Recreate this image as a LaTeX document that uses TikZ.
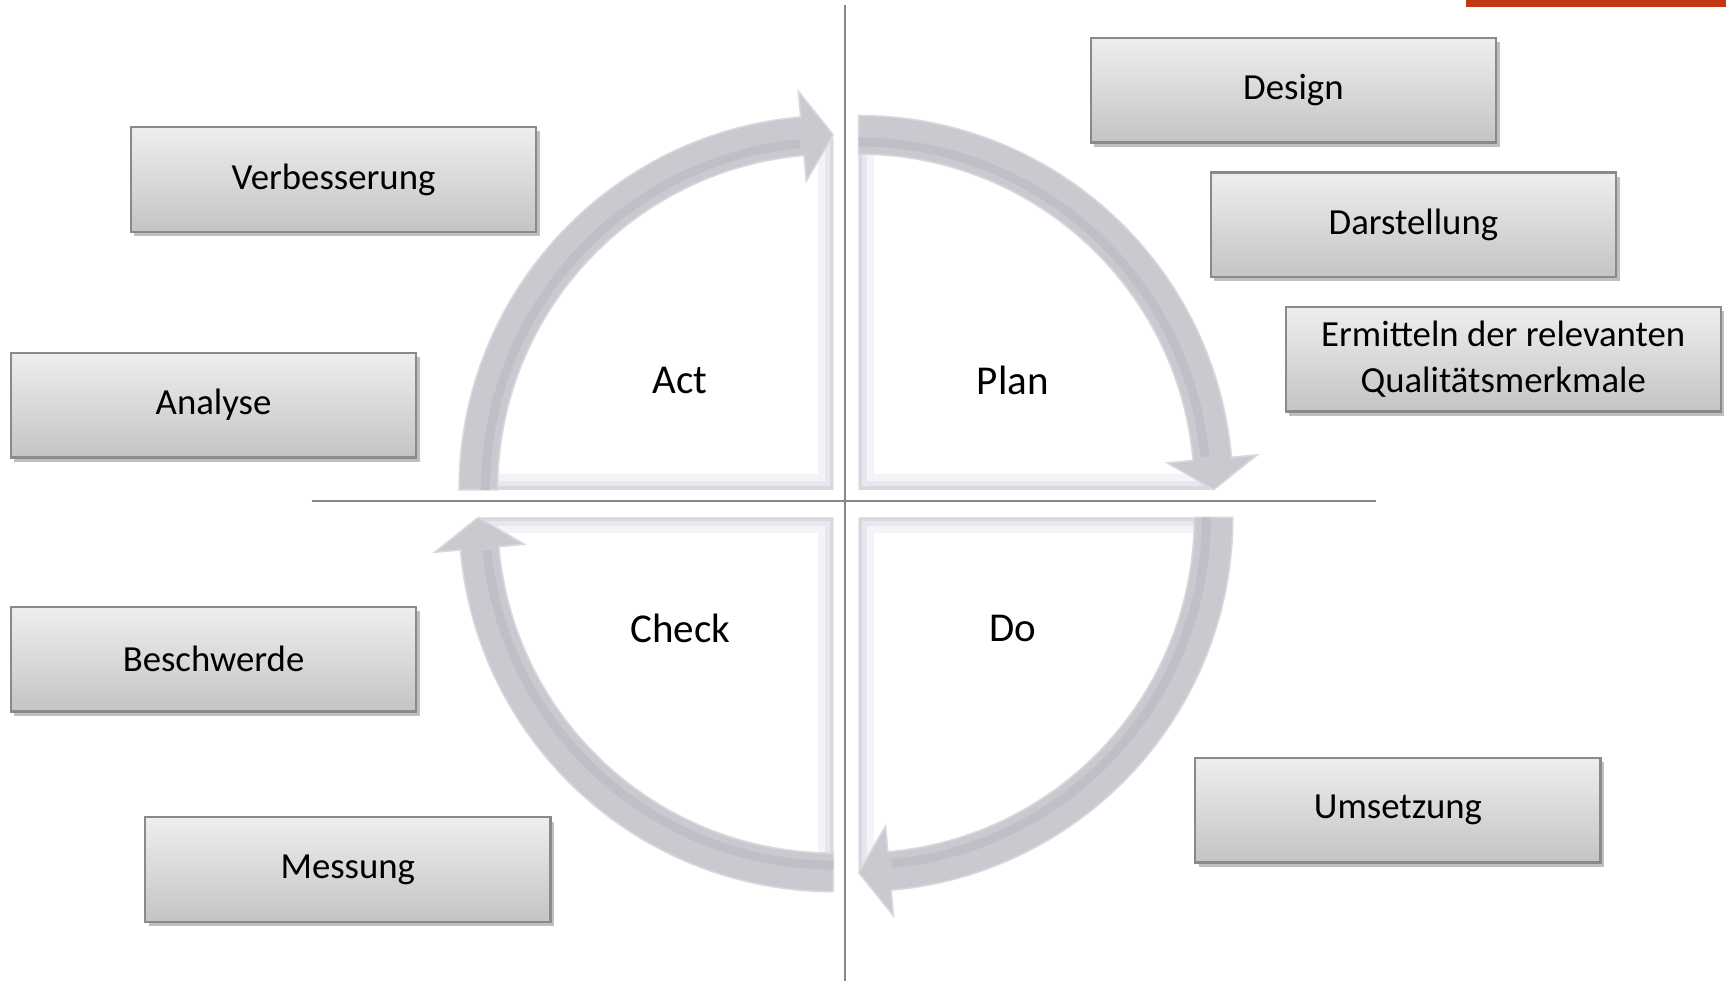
\documentclass[tikz,border=0pt]{standalone}
\usepackage{fontspec}
\setmainfont{Carlito}
\usepackage{tikz}
\usetikzlibrary{positioning, shadows}
\usepackage{xcolor}

\definecolor{boxtop}{RGB}{238,238,238}
\definecolor{boxbottom}{RGB}{196,196,196}
\definecolor{boxborder}{RGB}{138,138,138}
\definecolor{arrowgray}{RGB}{201,201,208}
\definecolor{arrowdark}{RGB}{191,191,200}
\definecolor{arrowedge}{RGB}{216,216,222}
\definecolor{bevelA}{RGB}{244,244,248}
\definecolor{bevelB}{RGB}{231,231,237}
\definecolor{bevelC}{RGB}{216,216,224}
\definecolor{crossgray}{RGB}{135,135,135}
\definecolor{topbar}{RGB}{192,57,18}

\begin{document}
\begin{tikzpicture}[x=0.01cm, y=0.01cm,
  box/.style={draw=boxborder, line width=0.6pt, top color=boxtop, bottom color=boxbottom,
    minimum width=3.68cm, minimum height=0.95cm, inner sep=2pt, align=center,
    font=\fontsize{9.5}{11.7}\selectfont,
    drop shadow={shadow xshift=0.9pt, shadow yshift=-1.1pt, fill=black, opacity=0.25}},
  phase/.style={font=\fontsize{10.6}{12.5}\selectfont},
  cycle arrow/.style={fill=arrowgray, draw=arrowedge, line width=0.4pt},
  cross/.style={draw=crossgray, line width=0.5pt}]

 \useasboundingbox (0,0) rectangle (1568,891);

 % Bar in the top corner
 \fill[topbar] (1332,885) rectangle (1568,891);

 % Quadrant panels and cycle arrows, one per quarter, turned clockwise
 \foreach \cx/\cy/\rot in {780/446/0, 780/421/-90, 757/421/-180, 757/446/-270} {
   \begin{scope}[shift={(\cx,\cy)}, rotate=\rot]
     \fill[white] (0,0) -- (0:320) arc[start angle=0, end angle=90, radius=320] -- cycle;
     \begin{scope}
       \clip (0,0) -- (0:320) arc[start angle=0, end angle=90, radius=320] -- cycle;
       \draw[bevelA, line width=8pt] (0:320) -- (0,0) -- (90:320);
       \draw[bevelB, line width=4.5pt] (0:320) -- (0,0) -- (90:320);
       \draw[bevelC, line width=1.8pt] (0:320) -- (0,0) -- (90:320);
     \end{scope}
     \draw[cycle arrow] (90:340) arc[start angle=90, end angle=5, radius=340]
       -- (5:363.5) -- (0:322.5) -- (5:281.5) -- (5:305)
       arc[start angle=5, end angle=90, radius=305] -- cycle;
     \draw[arrowdark, line width=2.3pt] (90:316) arc[start angle=90, end angle=5.5, radius=316];
   \end{scope}
 }

 % Cross lines
 \draw[cross] (768,886) -- (768,0);
 \draw[cross] (283,436) -- (1250,436);

 % Phases
 \node[phase] (act) at (618,545) {Act};
 \node[phase] (plan) at (920,545) {Plan};
 \node[phase] (check) at (618,320) {Check};
 \node[phase] (do) at (920,320) {Do};

 % Boxes on the right
 \node[box] (design) at (1175,809) {Design};
 \node[box, below=0.25cm of design, xshift=1.09cm] (darst) {Darstellung};
 \node[box, minimum width=3.95cm, below=0.25cm of darst, xshift=0.815cm] (ermitteln)
   {Ermitteln der relevanten\\Qualitätsmerkmale};
 \node[box] (umsetzung) at (1270,155) {Umsetzung};

 % Boxes on the left
 \node[box] (verbess) at (303,728) {Verbesserung};
 \node[box] (analyse) at (194,523) {Analyse};
 \node[box] (beschwerde) at (194,292) {Beschwerde};
 \node[box] (messung) at (316,101) {Messung};

\end{tikzpicture}
\end{document}
